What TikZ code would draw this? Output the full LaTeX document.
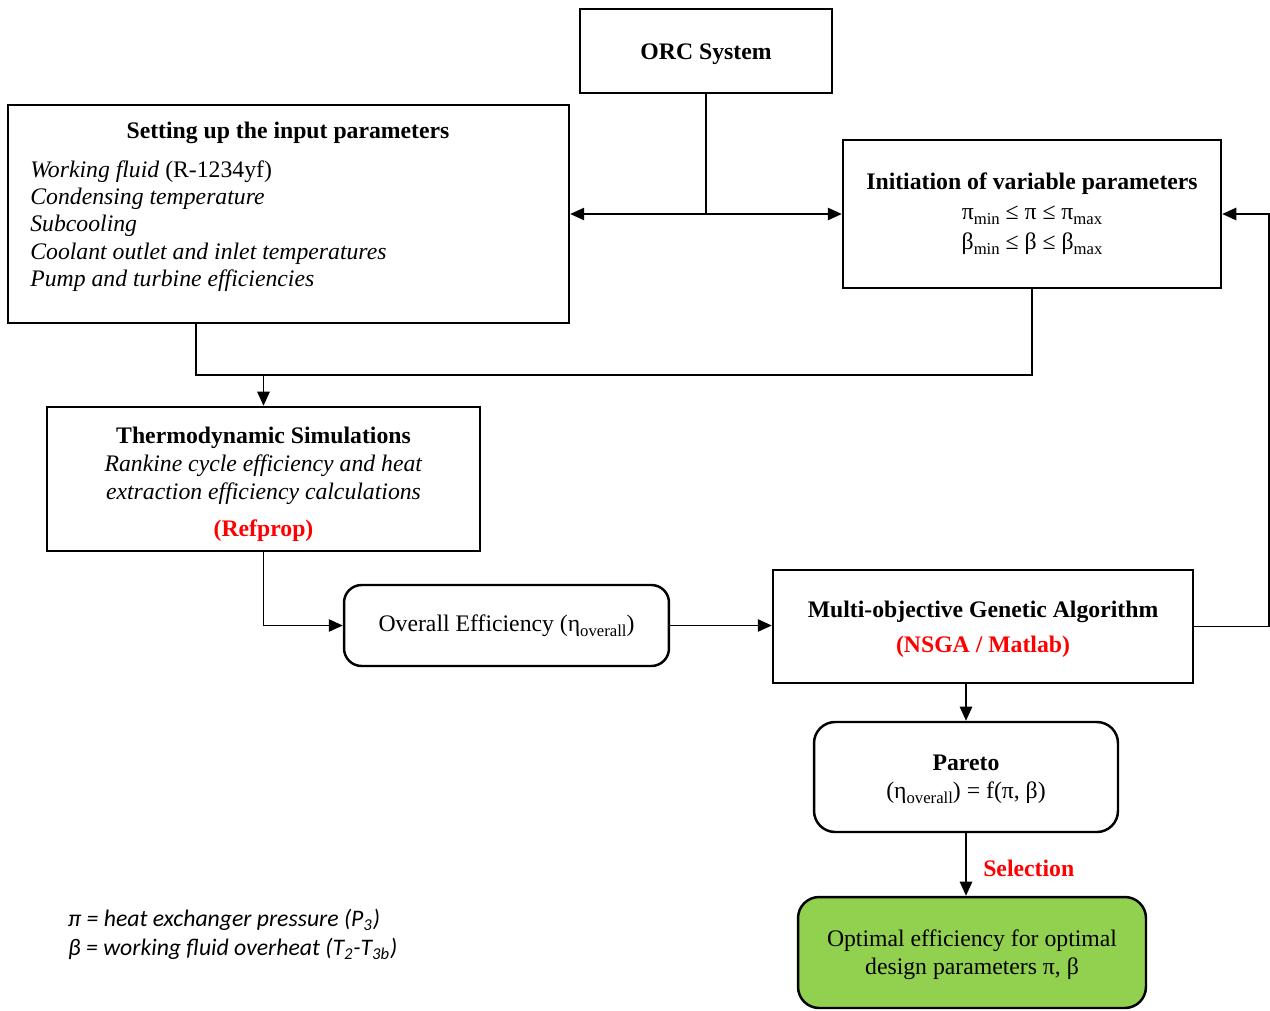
\documentclass[tikz,border=0pt]{standalone}
\usepackage{fontspec}
\setmainfont{Liberation Serif}
\newfontfamily\legendfont{Carlito}
\usepackage{xcolor}
\usetikzlibrary{arrows.meta,positioning}
\definecolor{optgreen}{HTML}{92D050}
\newcommand\lowsub[1]{\raisebox{-0.5ex}{\fontsize{9.5}{9.5}\selectfont #1}}
\newcommand\topgap[1]{\rule{0pt}{#1}}

\begin{document}
\begin{tikzpicture}[x=0.02cm, y=-0.02cm,
    font=\fontsize{13.5}{16}\selectfont,
    box/.style={draw, line width=1.4pt, align=center, inner sep=2pt},
    rbox/.style={box, rounded corners=10pt},
    conn/.style={line width=1pt},
    arr/.style={conn, -{Triangle[length=8pt,width=7pt]}}
  ]
  \useasboundingbox (0,0) rectangle (1270,1010);

  % boxes
  \node (orc) [box, minimum width=5.04cm, minimum height=1.68cm] at (706,51) {\topgap{13pt}\textbf{ORC System}};
  \node (inp) [box, minimum width=11.22cm, minimum height=4.36cm] at (288.5,214) {};
  \node (inptitle) at (288,133) {\textbf{Setting up the input parameters}};
  \node (inplist) [anchor=north west, align=left, inner sep=0pt, font=\fontsize{13.5}{15.6}\selectfont] at (30,160)
    {\textit{Working fluid} (R-1234yf)\\ \textit{Condensing temperature}\\ \textit{Subcooling}\\
     \textit{Coolant outlet and inlet temperatures}\\ \textit{Pump and turbine efficiencies}};
  \node (init) [box, minimum width=7.56cm, minimum height=2.96cm] at (1032,214)
    {\textbf{Initiation of variable parameters}\\[1pt]
     π\lowsub{min} ≤ π ≤ π\lowsub{max}\\[1pt]
     β\lowsub{min} ≤ β ≤ β\lowsub{max}};
  \node (thermo) [box, minimum width=8.66cm, minimum height=2.88cm] at (263.5,479)
    {\topgap{15pt}\textbf{Thermodynamic Simulations}\\ \textit{Rankine cycle efficiency and heat}\\
     \textit{extraction efficiency calculations}\\[5pt] \textcolor{red}{\textbf{(Refprop)}}};
  \node (overall) [rbox, minimum width=6.5cm, minimum height=1.62cm] at (506.5,625.5)
    {Overall Efficiency (η\lowsub{overall})};
  \node (moga) [box, minimum width=8.4cm, minimum height=2.26cm] at (983,626.5)
    {\topgap{13pt}\textbf{Multi-objective Genetic Algorithm}\\[4pt] \textcolor{red}{\textbf{(NSGA / Matlab)}}};
  \node (pareto) [rbox, rounded corners=12pt, minimum width=6.08cm, minimum height=2.2cm] at (966,777)
    {\topgap{11.5pt}\textbf{Pareto}\\ (η\lowsub{overall}) = f(π, β)};
  \node (opt) [rbox, rounded corners=12pt, fill=optgreen, minimum width=6.96cm, minimum height=2.22cm] at (972,952.5)
    {\topgap{12.5pt}Optimal efficiency for optimal\\ design parameters π, β};

  % legend
  \node (leg1) [anchor=west, font=\legendfont\itshape\fontsize{13.5}{16}\selectfont] at (62,920)
    {π = heat exchanger pressure (P\textsubscript{3})};
  \node (leg2) [anchor=west, font=\legendfont\itshape\fontsize{13.5}{16}\selectfont] at (62,949)
    {β = working fluid overheat (T\textsubscript{2}-T\textsubscript{3b})};

  % connectors
  \coordinate (split) at (706,214);
  \coordinate (inpout) at (196,323);
  \coordinate (merge) at (thermo.north |- 0,375);
  \coordinate (back) at (1269,626.5);
  \draw[conn] (orc.south) -- (split);
  \draw[arr] (split) -- (inp.east);
  \draw[arr] (split) -- (init.west);
  \draw[conn] (inpout) |- (merge);
  \draw[conn] (init.south) |- (merge);
  \draw[arr] (merge) -- (thermo.north);
  \draw[arr] (thermo.south) |- (overall.west);
  \draw[arr] (overall.east) -- (overall.east -| moga.west);
  \draw[arr] (moga.east) -- (back) |- (init.east);
  \draw[arr] (moga.south -| pareto.north) -- (pareto.north);
  \draw[arr] (pareto.south) -- (pareto.south |- opt.north)
    node (sel) [midway, anchor=west, xshift=6pt, yshift=-2pt, text=red, font=\bfseries\fontsize{13.5}{16}\selectfont] {Selection};
\end{tikzpicture}
\end{document}
